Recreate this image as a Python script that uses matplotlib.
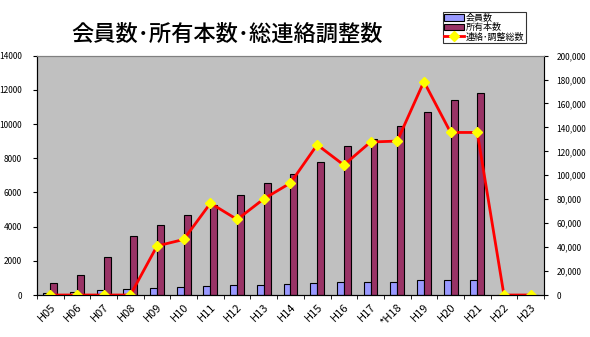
import matplotlib
matplotlib.use("Agg")
import matplotlib.pyplot as plt
import numpy as np

plt.rcParams['font.family'] = ['Noto Sans CJK JP', 'DejaVu Sans']

# ===== DATA =====
years = ["H05", "H06", "H07", "H08", "H09", "H10", "H11", "H12", "H13", "H14",
         "H15", "H16", "H17", "*H18", "H19", "H20", "H21", "H22", "H23"]
members = [100, 150, 270, 380, 390, 450, 505, 560, 560, 620,
           680, 740, 780, 780, 855, 895, 900, 0, 0]
owned = [700, 1150, 2200, 3450, 4100, 4700, 5250, 5850, 6550, 7100,
         7750, 8700, 9150, 9900, 10700, 11400, 11800, 0, 0]
coord = [0, 0, 0, 0, 41000, 46400, 76700, 63100, 80300, 93600,
         125500, 108600, 127800, 128600, 178300, 135800, 135800, 0, 0]

x = np.arange(len(years))
w = 0.26

fig = plt.figure(figsize=(5.9, 3.37), dpi=100)
ax = fig.add_axes([0.0627, 0.1246, 0.8593, 0.7104])
ax.set_facecolor("#C0C0C0")

b1 = ax.bar(x - w / 2, members, w, color="#9999FF", edgecolor="black", linewidth=0.8, label="会員数")
b2 = ax.bar(x + w / 2, owned, w, color="#993366", edgecolor="black", linewidth=0.8, label="所有本数")
ax.set_ylim(0, 14000)
ax.set_xlim(-0.5, len(years) - 0.5)
ax.set_yticks(range(0, 14001, 2000))
ax.tick_params(axis="y", labelsize=6, length=3, pad=8)
ax.set_xticks(x)
ax.set_xticklabels(years, rotation=45, ha="right", rotation_mode="anchor", fontsize=8)
ax.tick_params(axis="x", length=0, pad=5)
ax.set_xticks(np.arange(-0.5, len(years), 1), minor=True)
ax.tick_params(axis="x", which="minor", length=3)
for s in ["top", "right"]:
    ax.spines[s].set_color("#808080")

ax2 = ax.twinx()
l1, = ax2.plot(x, coord, color="red", linewidth=2, marker="D", markersize=5,
               markerfacecolor="yellow", markeredgecolor="yellow", label="連絡･調整総数")
ax2.set_ylim(0, 200000)
ax2.set_yticks(range(0, 200001, 20000))
ax2.set_yticklabels([f"{v:,}" for v in range(0, 200001, 20000)])
ax2.tick_params(axis="y", labelsize=6, length=3, pad=6)
ax2.spines["right"].set_color("black")
ax2.spines["top"].set_color("#808080")

fig.text(0.385, 0.899, "会員数･所有本数･総連絡調整数", ha="center", va="center",
         fontsize=16, fontweight="medium")

leg = fig.legend(handles=[b1, b2, l1], loc="upper left", bbox_to_anchor=(0.75, 0.965),
                 fontsize=6.5, frameon=True, fancybox=False, edgecolor="black",
                 borderpad=0.2, labelspacing=0.05, handlelength=2.2, handletextpad=0.2,
                 borderaxespad=0)
leg.get_frame().set_linewidth(0.8)

fig.savefig("out.png", dpi=100, facecolor="white")
